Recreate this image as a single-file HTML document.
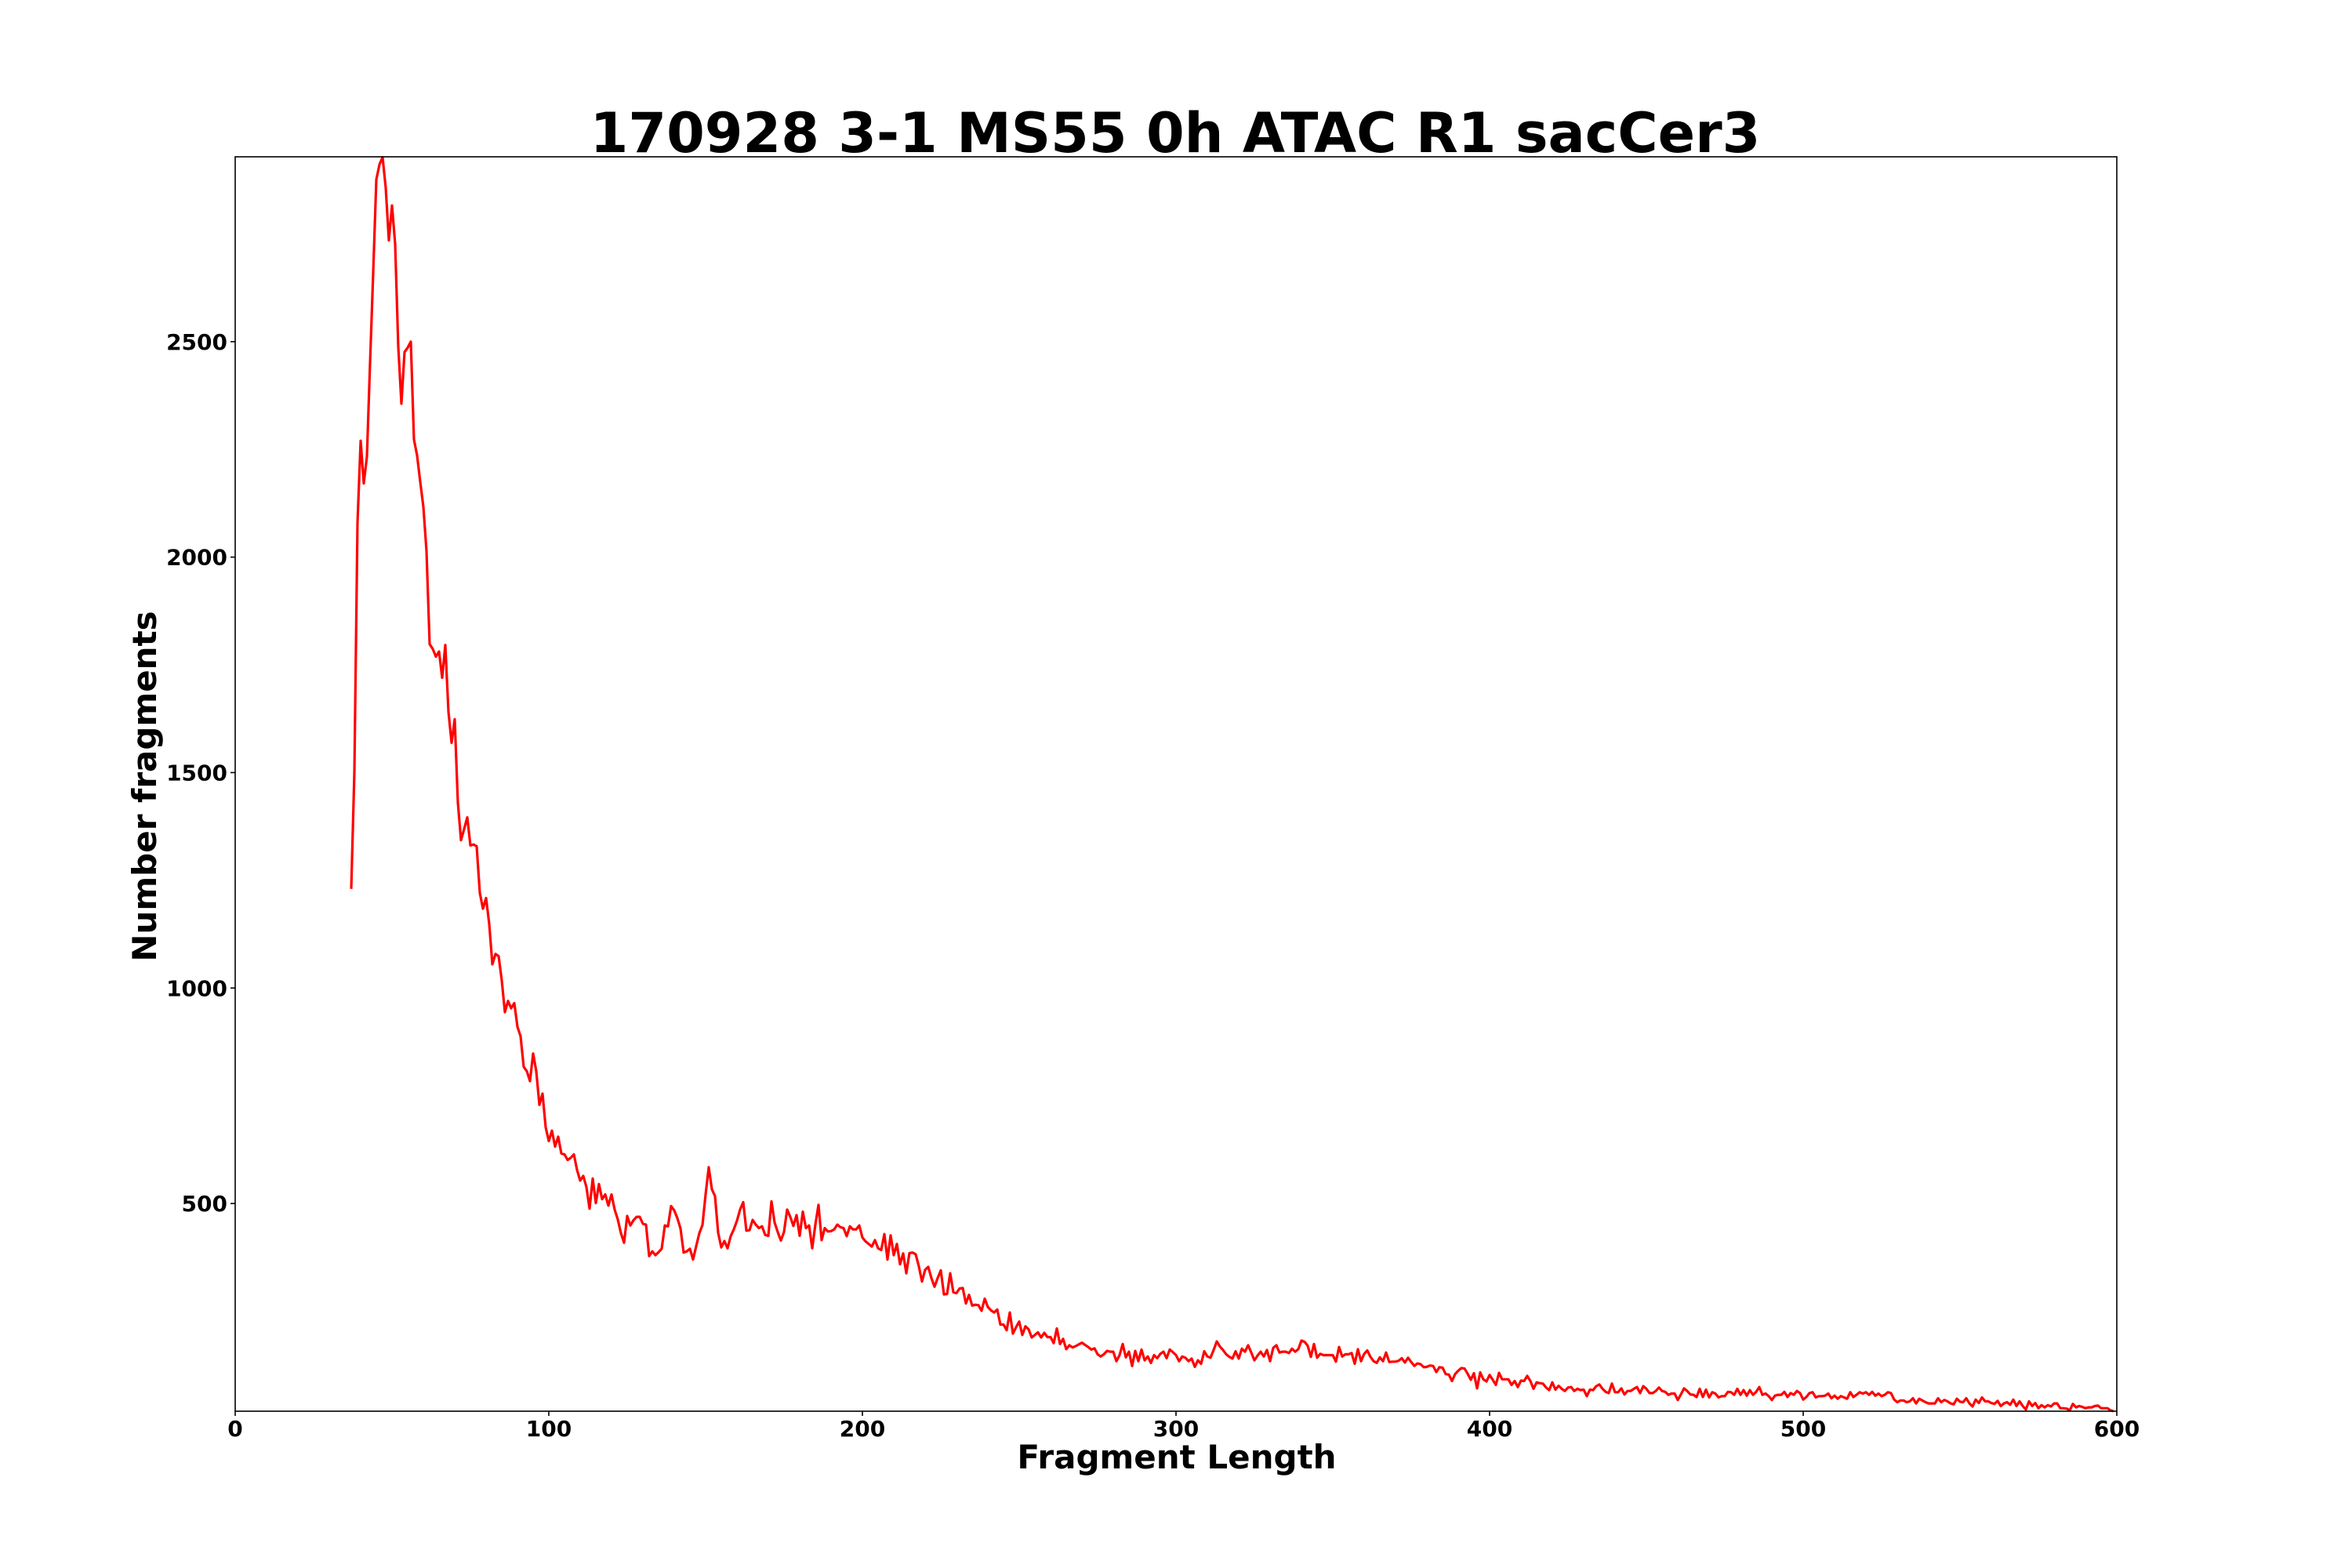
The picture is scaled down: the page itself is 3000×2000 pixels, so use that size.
<!DOCTYPE html>
<html><head><meta charset="utf-8"><style>
html,body{margin:0;padding:0;background:#fff;}
svg{display:block;font-family:"DejaVu Sans","Liberation Sans",sans-serif;font-weight:bold;}
</style></head><body>
<svg id="chart" width="3000" height="2000" viewBox="0 0 3000 2000" xmlns="http://www.w3.org/2000/svg">
<rect x="0" y="0" width="3000" height="2000" fill="#fff"/>
<text x="1499" y="194" font-size="70" text-anchor="middle">170928 3-1 MS55 0h ATAC R1 sacCer3</text>
<text x="1501" y="1873" font-size="42" text-anchor="middle">Fragment Length</text>
<text x="0" y="0" font-size="42" text-anchor="middle" transform="translate(199,1003) rotate(-90)">Number fragments</text>
<g id="ticks"></g>
<path id="series" fill="none" stroke="#ff0000" stroke-width="3.2" stroke-linejoin="round"/>
<rect x="300" y="200" width="2400" height="1600" fill="none" stroke="#000" stroke-width="1.6"/>
</svg>
<script>
const xStart = 37;
const counts = [
1230,1500,2080,2270,2171,2233,2450,2660,2876,2911,2928,2857,2735,2816,2727,2488,2356,2476,2486,2500,
2273,2236,2175,2117,2014,1798,1787,1769,1781,1720,1796,1641,1569,1624,1431,1343,1369,1396,1331,1333,
1329,1221,1184,1209,1149,1055,1079,1074,1018,944,970,953,965,910,888,817,807,784,848,807,
729,755,677,645,
669,632,655,616,614,601,606,614,578,553,564,538,488,558,501,545,510,521,495,521,
486,463,431,409,471,449,461,469,469,453,451,378,389,380,387,395,449,447,494,484,
466,442,386,389,395,370,401,431,450,521,584,533,517,432,398,413,396,424,440,460,
486,503,437,438,462,451,443,447,427,425,505,456,434,414,434,486,469,448,473,425,
481,443,449,396,451,497,415,443,435,436,440,451,445,443,424,447,440,440,449,421,
412,406,400,415,396,392,429,370,426,380,406,359,384,338,385,386,382,354,319,346,
353,327,307,327,345,289,290,338,294,292,303,304,268,288,263,265,264,251,279,260,
252,247,254,219,219,206,247,198,213,226,195,215,208,189,195,201,189,200,190,190,
176,210,174,186,162,171,166,169,173,177,172,167,161,164,150,145,150,158,156,156,
134,148,174,143,156,123,158,134,161,136,145,130,148,141,151,156,141,161,155,
148,134,145,142,134,140,121,136,128,157,145,142,160,180,168,160,150,144,140,157,
140,163,156,171,154,136,147,156,145,160,134,165,171,154,156,156,153,163,156,162,
182,179,170,144,174,142,151,148,148,148,148,133,167,145,150,150,153,128,162,134,
151,159,144,134,130,143,134,154,132,133,133,135,141,131,142,132,123,129,127,120,
121,124,123,109,120,119,104,103,88,104,112,118,117,105,91,106,71,108,92,87,102,
91,79,107,92,92,92,79,88,74,89,88,100,88,70,85,83,82,73,67,
85,68,77,70,65,73,74,65,70,67,68,53,68,67,76,80,70,63,60,82,
62,62,71,57,65,65,70,74,60,76,70,60,60,65,73,65,63,56,59,59,
44,57,71,65,57,56,51,70,51,68,50,62,59,50,53,53,63,62,56,70,
56,67,54,67,56,63,74,56,59,53,44,54,56,56,63,51,60,56,65,
60,45,51,60,62,50,53,53,54,59,48,54,47,53,50,47,62,51,56,62,
59,62,56,63,54,59,53,56,62,60,45,39,43,43,39,41,48,36,47,43,
39,36,36,36,48,39,44,41,36,34,47,40,39,48,36,29,45,37,50,41,
41,37,35,42,30,36,39,33,45,30,41,30,22,41,30,37,25,32,27,32,
29,36,36,25,25,24,20,35,27,30,28,25,27,27,30,31,25,25,25,20,18
];
const xTicks = [0,100,200,300,400,500,600];
const yTicks = [500,1000,1500,2000,2500];
const xDomain = [0,600];
const yDomain = [18,2929];

const PL=300, PR=2700, PT=200, PB=1800;
function sx(v){return PL+(v-xDomain[0])/(xDomain[1]-xDomain[0])*(PR-PL);}
function sy(v){return PB-(v-yDomain[0])/(yDomain[1]-yDomain[0])*(PB-PT);}
const NS="http://www.w3.org/2000/svg";
let d="";
counts.forEach((c,i)=>{const x=Math.min(xStart+i,xDomain[1]);d+=(i?"L":"M")+sx(x).toFixed(1)+","+sy(c).toFixed(1);});
document.getElementById('series').setAttribute('d',d);
const g=document.getElementById('ticks');
xTicks.forEach(t=>{
  const l=document.createElementNS(NS,'line');
  l.setAttribute('x1',sx(t));l.setAttribute('x2',sx(t));l.setAttribute('y1',PB);l.setAttribute('y2',PB+6);
  l.setAttribute('stroke','#000');l.setAttribute('stroke-width','1.6');
  
  
  g.appendChild(l);
  const tx=document.createElementNS(NS,'text');
  tx.setAttribute('x',sx(t));tx.setAttribute('y',PB+32);tx.setAttribute('font-size','28');tx.setAttribute('text-anchor','middle');
  tx.textContent=t;
  
  
  g.appendChild(tx);
});
yTicks.forEach(t=>{
  const l=document.createElementNS(NS,'line');
  l.setAttribute('x1',PL-6);l.setAttribute('x2',PL);l.setAttribute('y1',sy(t));l.setAttribute('y2',sy(t));
  l.setAttribute('stroke','#000');l.setAttribute('stroke-width','1.6');
  
  
  g.appendChild(l);
  const tx=document.createElementNS(NS,'text');
  tx.setAttribute('x',PL-10);tx.setAttribute('y',sy(t)+10);tx.setAttribute('font-size','28');tx.setAttribute('text-anchor','end');
  tx.textContent=t;
  
  
  g.appendChild(tx);
});
</script>
</body></html>
